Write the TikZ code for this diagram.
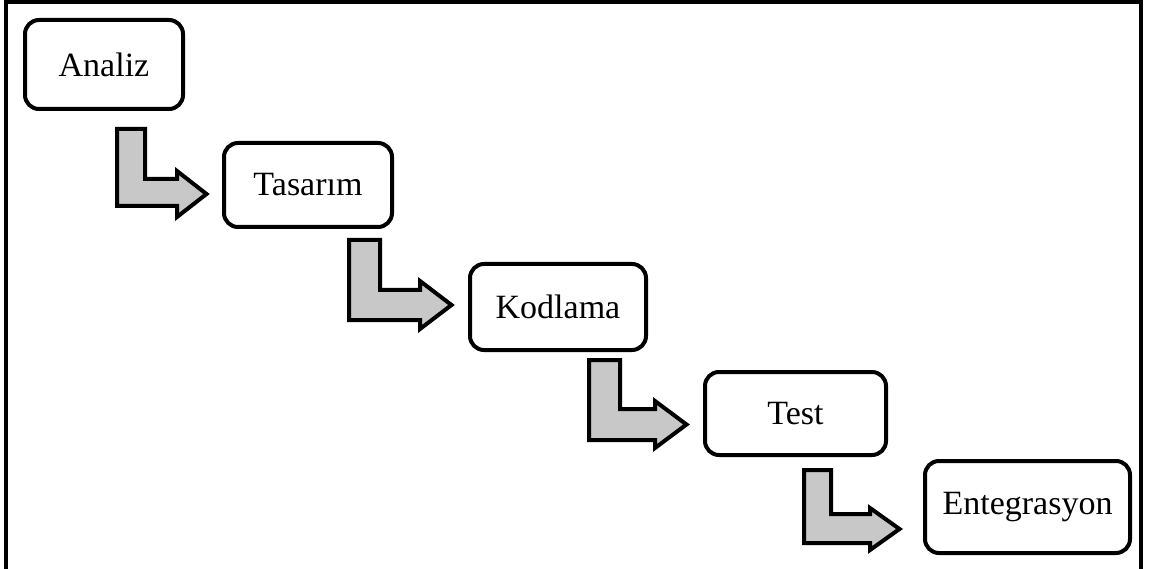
\documentclass[tikz,border=0pt]{standalone}
\usepackage{fontspec}
\setmainfont{Liberation Serif}
\definecolor{arrowgray}{RGB}{200,200,200}
\tikzset{
  phase/.style={draw=black, line width=4pt, rounded corners=14pt, inner sep=0pt,
    font=\fontsize{34}{40}\selectfont, text=black},
  blockarrow/.style={draw=black, fill=arrowgray, line width=4pt, line join=miter},
  frameline/.style={draw=black, line width=4pt}
}
% L R T BT BB HB HT HBo TX
\newcommand\larrow[9]{%
  \draw[blockarrow] (#1+2,#3+2) -- (#2-2,#3+2) -- (#2-2,#4+2) -- (#6+2,#4+2)
    -- (#6+2,#7+3) -- (#9-3.5,{(#7+#8)/2}) -- (#6+2,#8-3) -- (#6+2,#5-2)
    -- (#1+2,#5-2) -- cycle;}
\begin{document}
\begin{tikzpicture}[x=1pt,y=-1pt]
\useasboundingbox (0,0) rectangle (1151,569);
\draw[frameline] (5.5,569) -- (5.5,2) -- (1140.5,2) -- (1140.5,569);

\node[phase, minimum width=158pt, minimum height=89pt] (analiz) at (104,64.5) {Analiz};
\node[phase, minimum width=168pt, minimum height=84pt] (tasarim) at (308,185) {Tasarım};
\node[phase, minimum width=176pt, minimum height=86pt] (kodlama) at (558,307) {Kodlama};
\node[phase, minimum width=181pt, minimum height=83pt] (test) at (795.5,413.5) {Test};
\node[phase, minimum width=205pt, minimum height=92pt] (entegrasyon) at (1027.5,507) {Entegrasyon};

\larrow{115}{147}{127}{177}{208}{175}{168}{220}{210}
\larrow{347}{382}{238}{288}{322}{418}{278}{332}{455}
\larrow{587}{622}{358}{407}{442}{653}{398}{451}{690}
\larrow{802}{833}{468}{512}{545}{868}{505}{553}{903}
\end{tikzpicture}
\end{document}
